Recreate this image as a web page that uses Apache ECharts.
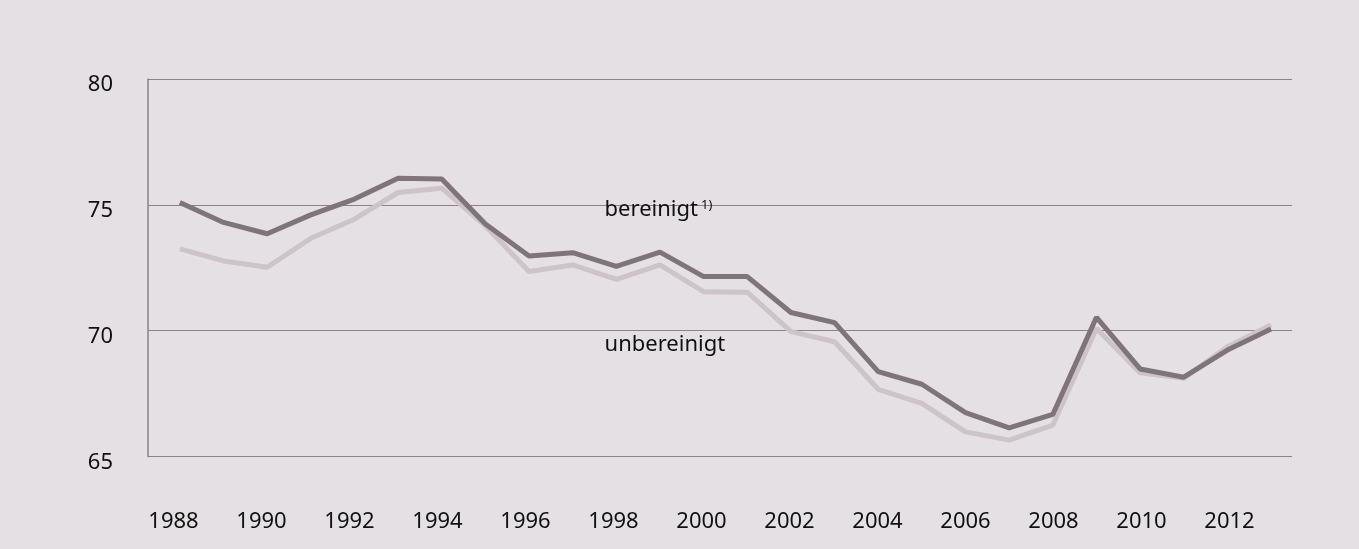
<!DOCTYPE html>
<html>
<head>
<meta charset="utf-8">
<script src="https://cdn.jsdelivr.net/npm/echarts@6/dist/echarts.min.js"></script>
<style>
  html, body { margin: 0; padding: 0; background: #e4e0e3; }
  #box { width: 1359px; height: 549px; }
</style>
</head>
<body>
<div id="box"></div>
<script>
// Jahre
var years = [1988, 1989, 1990, 1991, 1992, 1993, 1994, 1995, 1996, 1997, 1998, 1999, 2000,
  2001, 2002, 2003, 2004, 2005, 2006, 2007, 2008, 2009, 2010, 2011, 2012, 2013];
// bereinigt 1)
var bereinigt = [75.09, 74.30, 73.85, 74.60, 75.23, 76.06, 76.03, 74.24, 72.97, 73.10, 72.55, 73.12, 72.15,
  72.15, 70.72, 70.32, 68.37, 67.87, 66.74, 66.14, 66.67, 70.53, 68.48, 68.15, 69.23, 70.07];
// unbereinigt
var unbereinigt = [73.25, 72.77, 72.52, 73.67, 74.43, 75.49, 75.66, 74.16, 72.35, 72.61, 72.04, 72.61, 71.55,
  71.53, 69.96, 69.56, 67.67, 67.11, 65.98, 65.65, 66.25, 70.09, 68.33, 68.11, 69.36, 70.23];
var yMin = 65, yMax = 80, yStep = 5;

var gridColor = "#8c8288";
var textColor = "#111";
var font = "'Noto Sans', sans-serif";

var myChart = echarts.init(document.getElementById("box"));
let option = {
  backgroundColor: "#e4e0e3",
  animation: false,
  textStyle: { fontFamily: font, color: textColor },
  grid: { left: 148, right: 67, top: 79, bottom: 92.5 },
  xAxis: [
    {
      type: "value",
      min: 1987.27,
      max: 2013.48,
      axisLine: { show: false },
      axisTick: { show: false },
      axisLabel: { show: false },
      splitLine: { show: false }
    },
    {
      type: "category",
      position: "bottom",
      boundaryGap: true,
      data: years.map(String),
      axisLine: { show: false },
      axisTick: { show: false },
      splitLine: { show: false },
      axisLabel: {
        interval: 1,
        margin: 54,
        fontSize: 22,
        fontFamily: font,
        color: textColor,
        padding: [0, 0, 0, 7]
      }
    }
  ],
  yAxis: {
    type: "value",
    min: yMin,
    max: yMax,
    interval: yStep,
    axisLine: { show: true, lineStyle: { color: gridColor, width: 1.5 } },
    axisTick: { show: false },
    axisLabel: {
      margin: 35,
      formatter: function (v) { return "{v|" + v + "}"; },
      rich: {
        v: { fontSize: 22, fontFamily: font, color: textColor, padding: [12, 0, 0, 0] }
      }
    },
    splitLine: { lineStyle: { color: gridColor, width: 1.2 } }
  },
  series: [
    {
      name: "unbereinigt",
      type: "line",
      xAxisIndex: 0,
      symbol: "none",
      data: years.map(function (y, i) { return [y, unbereinigt[i]]; }),
      lineStyle: { color: "#ccc4c8", width: 5 },
      markPoint: {
        symbol: "circle",
        symbolSize: 0,
        data: [{ coord: [1997.73, 69.43] }],
        label: {
          show: true,
          position: [0, 0],
          align: "left",
          verticalAlign: "middle",
          formatter: "unbereinigt",
          fontSize: 22,
          fontFamily: font,
          color: textColor
        }
      }
    },
    {
      name: "bereinigt",
      type: "line",
      xAxisIndex: 0,
      symbol: "none",
      data: years.map(function (y, i) { return [y, bereinigt[i]]; }),
      lineStyle: { color: "#7f747a", width: 5 },
      markPoint: {
        symbol: "circle",
        symbolSize: 0,
        data: [{ coord: [1997.73, 74.80] }],
        label: {
          show: true,
          position: [0, 0],
          align: "left",
          verticalAlign: "middle",
          formatter: "{a|bereinigt} {s|1)}",
          rich: {
            a: { fontSize: 22, fontFamily: font, color: textColor },
            s: { fontSize: 13, fontFamily: font, color: textColor, verticalAlign: "top" }
          }
        }
      }
    }
  ]
};
myChart.setOption(option);
</script>
</body>
</html>
